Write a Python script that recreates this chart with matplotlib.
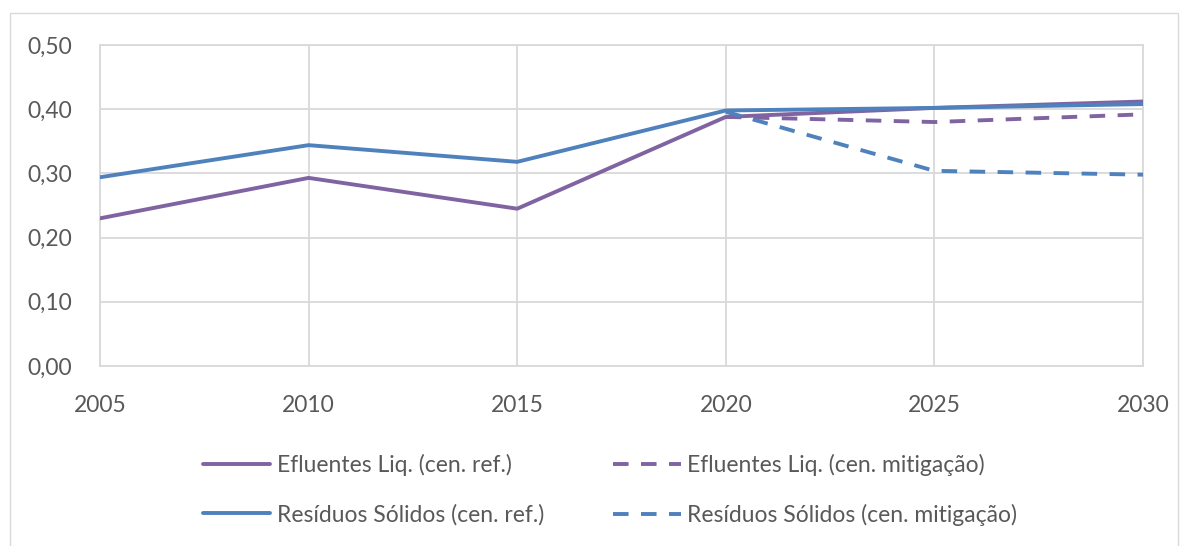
import matplotlib
matplotlib.use("Agg")
import matplotlib.pyplot as plt
from matplotlib.patches import Rectangle
from matplotlib.ticker import FuncFormatter

plt.rcParams['font.family'] = ['Lato', 'DejaVu Sans']
plt.rcParams['font.weight'] = 'normal'

years = [2005, 2010, 2015, 2020, 2025, 2030]
years_mit = [2020, 2025, 2030]
efl_ref = [0.230, 0.293, 0.245, 0.388, 0.402, 0.412]
efl_mit = [0.388, 0.380, 0.392]
res_ref = [0.294, 0.344, 0.318, 0.398, 0.402, 0.408]
res_mit = [0.396, 0.304, 0.298]
labels = ["Efluentes Liq. (cen. ref.)", "Efluentes Liq. (cen. mitigação)",
          "Resíduos Sólidos (cen. ref.)", "Resíduos Sólidos (cen. mitigação)"]

purple = "#8064A2"
blue = "#4F81BD"
grid = "#D9D9D9"
txt = "#595959"

W, H = 1185, 546
fig = plt.figure(figsize=(W/100, H/100), dpi=100)
fig.patches.append(Rectangle((10/W, -0.1), (1178-10)/W, 1.1 - 13/H, transform=fig.transFigure,
                             fill=False, edgecolor=grid, linewidth=1.0))
ax = fig.add_axes([100/W, 1-366/H, (1143-100)/W, (366-45)/H])

lw = 2.8
dash = (4.0, 3.2)
l1, = ax.plot(years, efl_ref, color=purple, lw=lw, label=labels[0], solid_capstyle='round', zorder=3)
l2, = ax.plot(years_mit, efl_mit, color=purple, lw=lw, ls=(0, dash), label=labels[1], zorder=3)
l3, = ax.plot(years, res_ref, color=blue, lw=lw, label=labels[2], solid_capstyle='round', zorder=3)
l4, = ax.plot(years_mit, res_mit, color=blue, lw=lw, ls=(0, dash), label=labels[3], zorder=3)

ax.set_xlim(2005, 2030)
ax.set_ylim(0, 0.5)
ax.set_xticks(years)
ax.set_yticks([0, 0.1, 0.2, 0.3, 0.4, 0.5])
ax.yaxis.set_major_formatter(FuncFormatter(lambda v, p: f"{v:.2f}".replace('.', ',')))
ax.grid(True, color=grid, lw=1.3)
ax.set_axisbelow(True)
for s in ax.spines.values():
    s.set_color(grid)
    s.set_linewidth(1.3)
ax.tick_params(length=0, labelsize=16.5, labelcolor=txt)
ax.tick_params(axis='y', pad=20)
ax.tick_params(axis='x', pad=21)

leg = fig.legend([l1, l3, l2, l4], [labels[0], labels[2], labels[1], labels[3]],
                 ncol=2, loc='center', bbox_to_anchor=(610/W, 1-490/H), frameon=False,
                 fontsize=16.5, labelcolor=txt, handlelength=2.95, handletextpad=0.3,
                 labelspacing=1.2, columnspacing=3.0)

fig.savefig("out.png", dpi=100)
